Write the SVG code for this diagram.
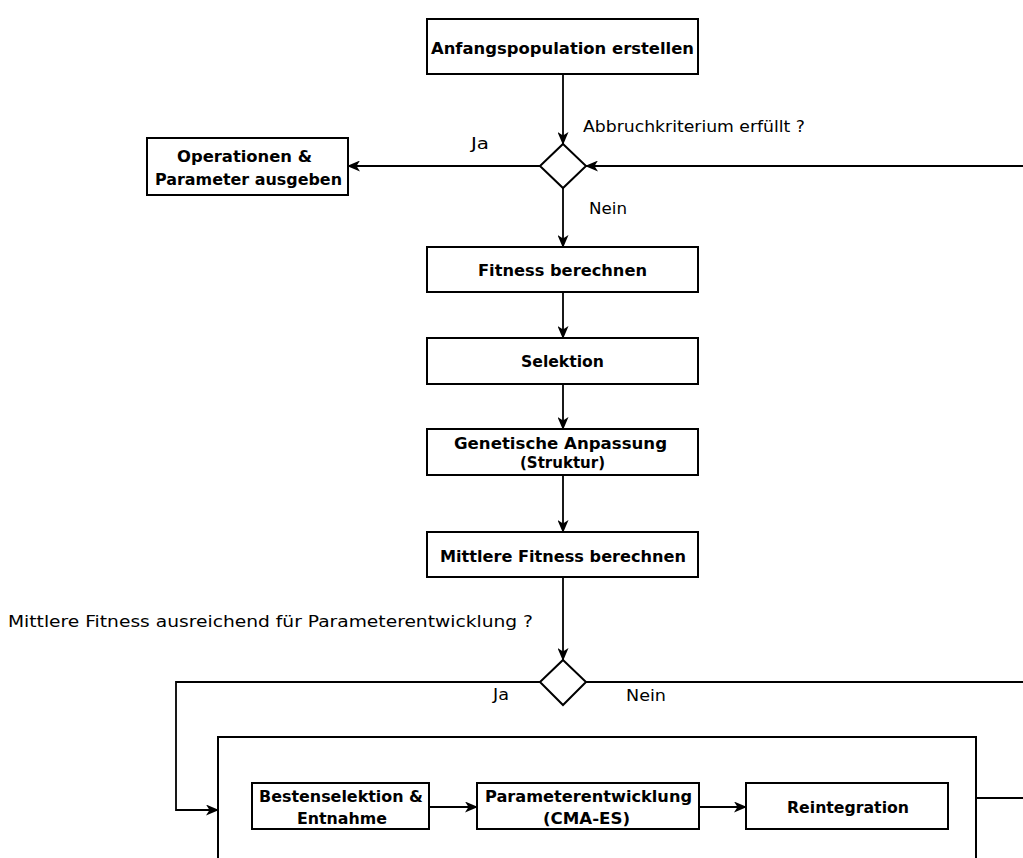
<svg xmlns="http://www.w3.org/2000/svg" width="1023" height="858" viewBox="0 0 1023 858">
<defs>
<style>
.box{fill:#fff;stroke:#000;stroke-width:2}
.grp{fill:none;stroke:#000;stroke-width:2}
.dia{fill:#fff;stroke:#000;stroke-width:2}
.t{font-family:"DejaVu Sans",sans-serif;font-size:16px;font-weight:bold;fill:#000}
.l{font-family:"DejaVu Sans",sans-serif;font-size:15px;fill:#000}
.c{fill:none;stroke:#000;stroke-width:1.8}
</style>
<marker id="ah" viewBox="0 0 13 11" refX="12" refY="5.5" markerWidth="13" markerHeight="11" markerUnits="userSpaceOnUse" orient="auto">
<path d="M0,0 L13,5.5 L0,11 L3.5,5.5 z" fill="#000"/>
</marker>
</defs>
<rect width="1023" height="858" fill="#fff"/>
<g id="n-group"><rect class="grp" x="218" y="737" width="758" height="140"/></g>
<g id="connectors">
<path class="c" d="M563,74 V144" marker-end="url(#ah)"/>
<path class="c" d="M1023,166 H586" marker-end="url(#ah)"/>
<path class="c" d="M540,166 H348" marker-end="url(#ah)"/>
<path class="c" d="M563,188 V247" marker-end="url(#ah)"/>
<path class="c" d="M563,292 V338" marker-end="url(#ah)"/>
<path class="c" d="M563,384 V429" marker-end="url(#ah)"/>
<path class="c" d="M563,475 V532" marker-end="url(#ah)"/>
<path class="c" d="M563,577 V660" marker-end="url(#ah)"/>
<path class="c" d="M540,682 H176 V810 H218" marker-end="url(#ah)"/>
<path class="c" d="M586,682 H1023"/>
<path class="c" d="M429,807 H477" marker-end="url(#ah)"/>
<path class="c" d="M699,807 H746" marker-end="url(#ah)"/>
<path class="c" d="M976,798 H1023"/>
</g>
<g id="labels">
<text class="l" x="583" y="132" textLength="222" lengthAdjust="spacingAndGlyphs">Abbruchkriterium erfüllt ?</text>
<text class="l" x="471" y="149" textLength="18" lengthAdjust="spacingAndGlyphs">Ja</text>
<text class="l" x="589" y="214" textLength="38" lengthAdjust="spacingAndGlyphs">Nein</text>
<text class="l" x="8" y="627" textLength="525" lengthAdjust="spacingAndGlyphs">Mittlere Fitness ausreichend für Parameterentwicklung ?</text>
<text class="l" x="493" y="700" textLength="16" lengthAdjust="spacingAndGlyphs">Ja</text>
<text class="l" x="626" y="701" textLength="40" lengthAdjust="spacingAndGlyphs">Nein</text>
</g>
<g id="n-start"><rect class="box" x="427" y="19" width="271" height="55"/><text class="t" x="431" y="54" textLength="263" lengthAdjust="spacingAndGlyphs">Anfangspopulation erstellen</text></g>
<g id="n-d1"><path class="dia" d="M563,144 L586,166 L563,188 L540,166 z"/></g>
<g id="n-out"><rect class="box" x="147" y="138" width="201" height="57"/><text class="t" x="177" y="162" textLength="135" lengthAdjust="spacingAndGlyphs">Operationen &amp;</text><text class="t" x="155" y="185" textLength="187" lengthAdjust="spacingAndGlyphs">Parameter ausgeben</text></g>
<g id="n-fit"><rect class="box" x="427" y="247" width="271" height="45"/><text class="t" x="478" y="276" textLength="169" lengthAdjust="spacingAndGlyphs">Fitness berechnen</text></g>
<g id="n-sel"><rect class="box" x="427" y="338" width="271" height="46"/><text class="t" x="521" y="367" textLength="83" lengthAdjust="spacingAndGlyphs">Selektion</text></g>
<g id="n-gen"><rect class="box" x="427" y="429" width="271" height="46"/><text class="t" x="454" y="449" textLength="213" lengthAdjust="spacingAndGlyphs">Genetische Anpassung</text><text class="t" x="520" y="468" textLength="85" lengthAdjust="spacingAndGlyphs">(Struktur)</text></g>
<g id="n-mfit"><rect class="box" x="427" y="532" width="271" height="45"/><text class="t" x="440" y="562" textLength="246" lengthAdjust="spacingAndGlyphs">Mittlere Fitness berechnen</text></g>
<g id="n-d2"><path class="dia" d="M563,660 L586,682 L563,705 L540,682 z"/></g>
<g id="n-best"><rect class="box" x="252" y="783" width="177" height="46"/><text class="t" x="259" y="802" textLength="164" lengthAdjust="spacingAndGlyphs">Bestenselektion &amp;</text><text class="t" x="297" y="824" textLength="90" lengthAdjust="spacingAndGlyphs">Entnahme</text></g>
<g id="n-param"><rect class="box" x="477" y="783" width="222" height="46"/><text class="t" x="485" y="802" textLength="207" lengthAdjust="spacingAndGlyphs">Parameterentwicklung</text><text class="t" x="543" y="824" textLength="87" lengthAdjust="spacingAndGlyphs">(CMA-ES)</text></g>
<g id="n-reint"><rect class="box" x="746" y="783" width="202" height="46"/><text class="t" x="787" y="813" textLength="122" lengthAdjust="spacingAndGlyphs">Reintegration</text></g>
</svg>
